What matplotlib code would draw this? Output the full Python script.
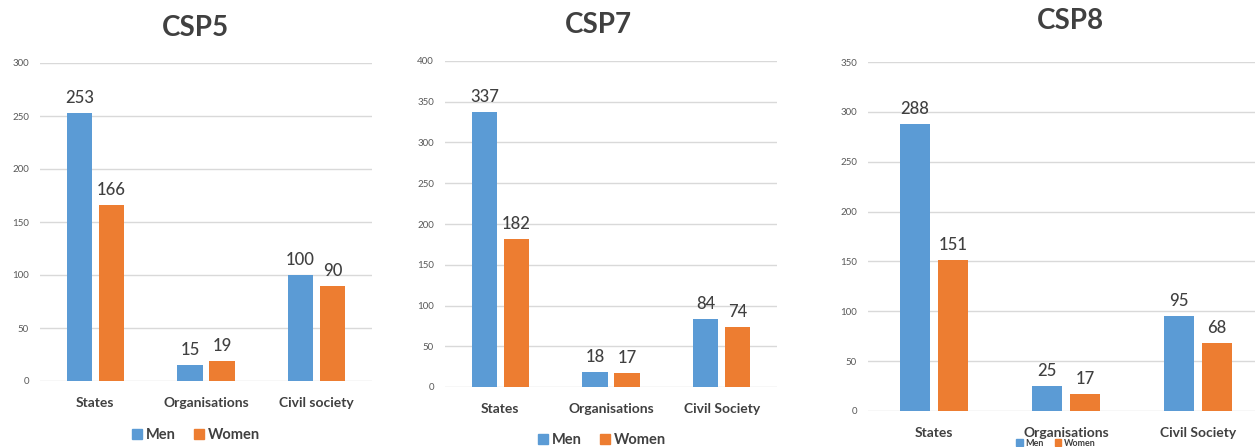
import matplotlib
matplotlib.use('Agg')
import matplotlib.pyplot as plt
import numpy as np
from matplotlib.patches import Patch

plt.rcParams['font.family'] = ['Lato', 'DejaVu Sans']

# data
titles = ['CSP5', 'CSP7', 'CSP8']
cats5 = ['States', 'Organisations', 'Civil society']
cats78 = ['States', 'Organisations', 'Civil Society']
men5 = [253, 15, 100]
women5 = [166, 19, 90]
men7 = [337, 18, 84]
women7 = [182, 17, 74]
men8 = [288, 25, 95]
women8 = [151, 17, 68]

BLUE = '#5B9BD5'
ORANGE = '#ED7D31'
GRID = '#D9D9D9'
DARK = '#404040'

W, H = 1255, 447
fig = plt.figure(figsize=(W / 100, H / 100), dpi=100)
fig.patch.set_facecolor('white')

# panel layout in pixels: left, top(value max), bottom(zero), width
panels = [
    dict(left=40, top=63, bottom=381, width=332, ymax=300, step=50,
         cats=cats5, men=men5, women=women5, title=titles[0],
         tx=195, ty=28, lx=196, ly=435, lfs=10.5),
    dict(left=445, top=61, bottom=387, width=332, ymax=400, step=50,
         cats=cats78, men=men7, women=women7, title=titles[1],
         tx=598, ty=25, lx=602, ly=440, lfs=10.5),
    dict(left=868, top=62, bottom=411, width=396, ymax=350, step=50,
         cats=cats78, men=men8, women=women8, title=titles[2],
         tx=1070, ty=21, lx=1056, ly=443, lfs=6.5),
]

for p in panels:
    ax = fig.add_axes([p['left'] / W, (H - p['bottom']) / H,
                       p['width'] / W, (p['bottom'] - p['top']) / H])
    x = np.arange(len(p['cats']))
    b1 = ax.bar(x - 0.145, p['men'], width=0.227, color=BLUE, zorder=3)
    b2 = ax.bar(x + 0.145, p['women'], width=0.227, color=ORANGE, zorder=3)
    ax.bar_label(b1, padding=5, fontsize=12, color=DARK, fontweight='medium')
    ax.bar_label(b2, padding=5, fontsize=12, color=DARK, fontweight='medium')
    ax.set_xlim(-0.5, 2.5)
    ax.set_ylim(0, p['ymax'])
    ax.set_yticks(np.arange(0, p['ymax'] + 1, p['step']))
    ax.set_xticks(x)
    ax.set_xticklabels(p['cats'], fontsize=10, fontweight='bold', color=DARK)
    ax.tick_params(axis='x', length=0, pad=11.5)
    ax.tick_params(axis='y', length=0, pad=8, labelsize=7, labelcolor='#595959')
    ax.yaxis.grid(True, color=GRID, lw=1, zorder=0)
    for s in ax.spines.values():
        s.set_visible(False)
    ax.set_axisbelow(True)

    fig.text(p['tx'] / W, 1 - p['ty'] / H, p['title'], ha='center', va='center',
             fontsize=20, fontweight='bold', color=DARK)
    handles = [Patch(color=BLUE, label='Men'), Patch(color=ORANGE, label='Women')]
    fig.legend(handles=handles, loc='center', bbox_to_anchor=(p['lx'] / W, 1 - p['ly'] / H),
               ncol=2, frameon=False, handlelength=0.7, handleheight=0.7,
               handletextpad=0.3, columnspacing=1.2, borderpad=0.0,
               prop={'size': p['lfs'], 'weight': 'bold'}, labelcolor=DARK)

fig.savefig('out.png', dpi=100)
